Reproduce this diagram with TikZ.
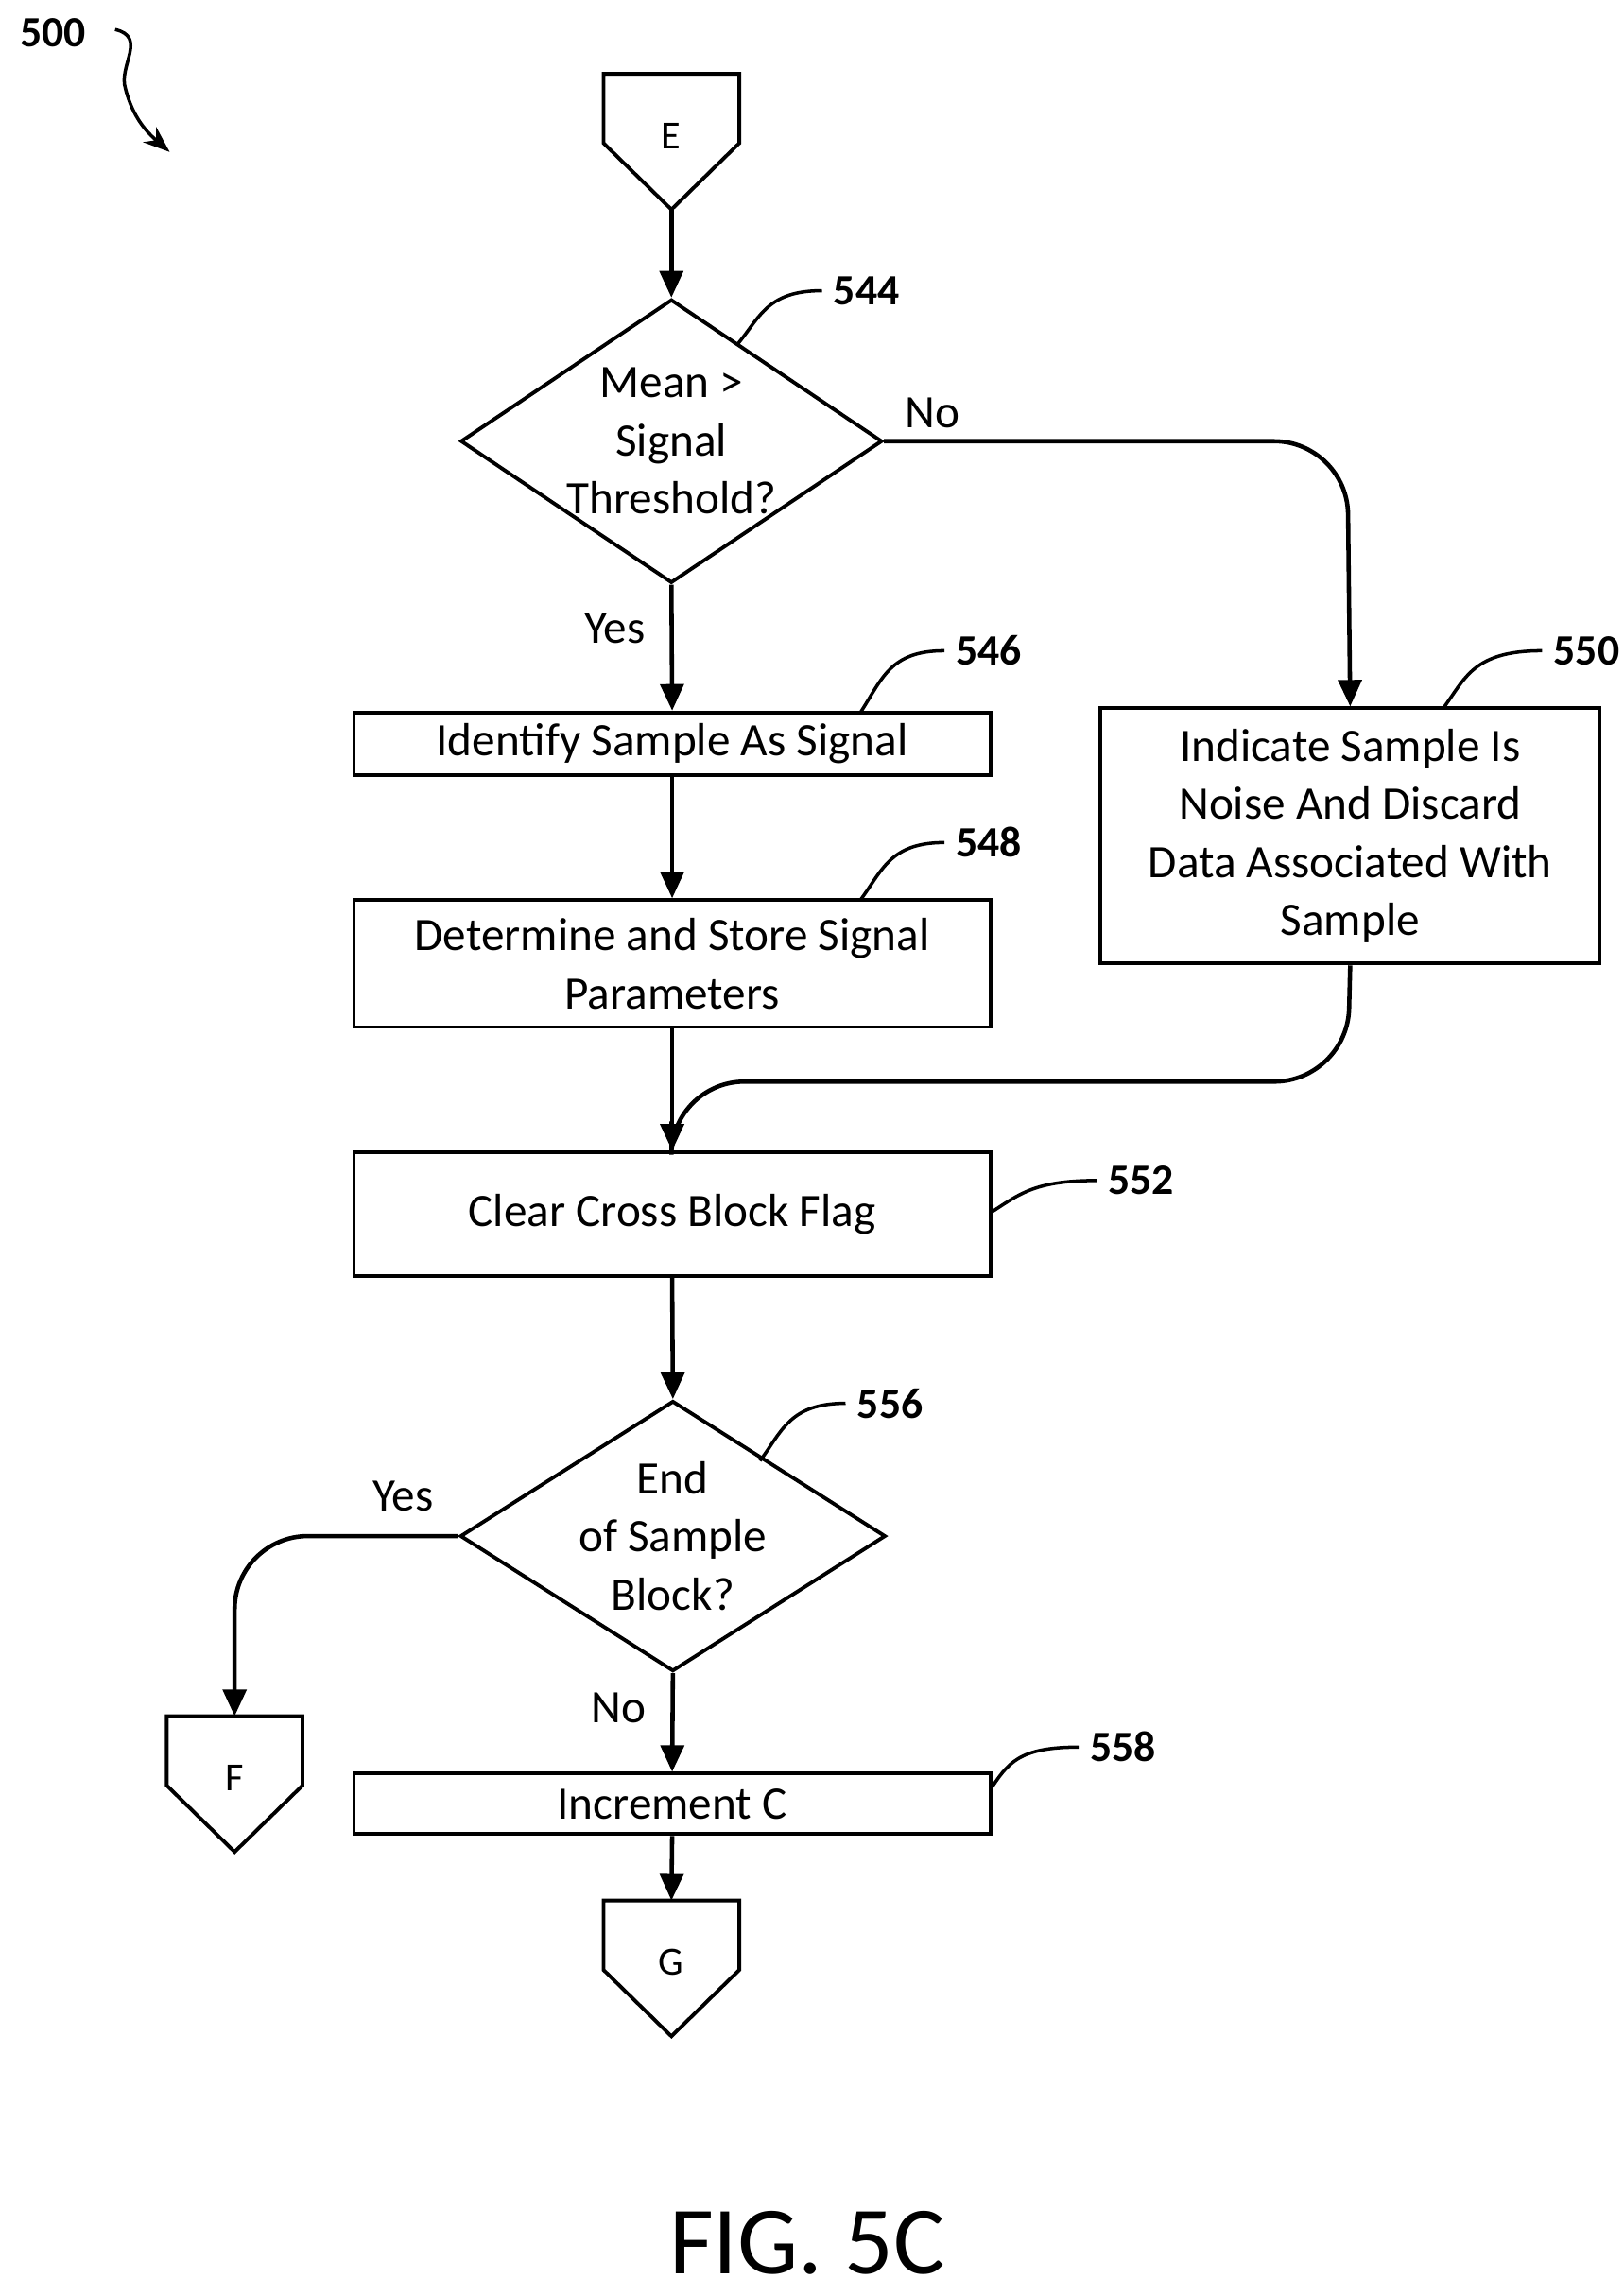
\documentclass[tikz,border=0pt]{standalone}
\usepackage{fontspec}
\setmainfont{Carlito}
\usetikzlibrary{shapes.geometric}
\usetikzlibrary{arrows.meta}

\tikzset{
    box/.style={draw, line width=1.1pt, minimum width=6.73cm, align=center, font=\fontsize{14}{17.5}\selectfont},
    choice/.style={draw, line width=1.1pt, diamond, inner sep=0pt},
    txt/.style={align=center, font=\fontsize{14}{17.5}\selectfont},
    refnum/.style={font=\bfseries\fontsize{13}{15}\selectfont},
    flow/.style={line width=1.3pt, -{Triangle[length=8pt,width=7pt]}},
    lead/.style={line width=1pt},
}

% off-page connector: name, x, y of top centre, letter
\newcommand{\offpage}[4]{
    \draw[line width=1.1pt] (#2-46,#3) -- (#2+46,#3) -- (#2+46,#3+47) -- (#2,#3+92) -- (#2-46,#3+47) -- cycle;
    \coordinate (#1) at (#2,#3);
    \node[txt, font=\fontsize{12}{14}\selectfont] (#1-txt) at (#2,#3+42) {#4};
}

\begin{document}
\begin{tikzpicture}[x=0.01561cm, y=-0.01561cm]
\useasboundingbox (0,0) rectangle (1100,1556);

% connectors and figure number
\offpage{E}{455}{50}{E}
\offpage{F}{159}{1163}{F}
\offpage{G}{455}{1288}{G}
\node[refnum] (n500) at (36,22) {500};
\coordinate (a500) at (115,103);
\draw[lead, -{Stealth[length=8pt]}] (78,20) .. controls (100,25) and (80,45) .. (85,60) .. controls (90,80) and (100,90) .. (a500);

% decisions
\node[choice, minimum width=4.46cm, minimum height=3.0cm] (d544) at (455,299) {};
\node[txt] (t544) at (455,299) {Mean >\\Signal\\Threshold?};
\node[choice, minimum width=4.5cm, minimum height=2.86cm] (d556) at (456,1041) {};
\node[txt] (t556) at (456,1041) {End\\of Sample\\Block?};

% process boxes
\node[box, minimum height=0.656cm] (b546) at (455.5,504) {Identify Sample As Signal};
\node[box, minimum height=1.342cm] (b548) at (455.5,653) {Determine and Store Signal\\Parameters};
\node[box, minimum width=5.28cm, minimum height=2.70cm] (b550) at (915,566.5) {Indicate Sample Is\\Noise And Discard\\Data Associated With\\Sample};
\node[box, minimum height=1.31cm] (b552) at (455.5,823) {Clear Cross Block Flag};
\node[box, minimum height=0.64cm] (b558) at (455.5,1222.5) {Increment C};

% flow
\draw[flow] (E) ++(0,92) -- (d544.north);
\draw[flow] (d544.south) -- node[txt, pos=0.35, left=4pt] {Yes} (b546.north);
\draw[flow, rounded corners=22pt] (d544.east) -- (913,299) -- (b550.north);
\node[txt] (lno1) at (632,280) {No};
\draw[flow] (b546.south) -- (b548.north);
\draw[flow] (b548.south) -- (b552.north);
\coordinate (join) at (455,733);
\draw[line width=1.3pt, rounded corners=22pt] (b550.south) -- (913,733) -- (join) -- (455,760);
\draw[flow] (b552.south) -- (d556.north);
\draw[flow, rounded corners=22pt] (d556.west) -- (159,1041) -- (F);
\node[txt] (lyes2) at (273,1014) {Yes};
\draw[flow] (d556.south) -- node[txt, pos=0.35, left=4pt] {No} (b558.north);
\draw[flow] (b558.south) -- (G);

% reference numerals
\node[refnum, anchor=west] (r544) at (557,197) {544};
\draw[lead] (500,233) .. controls (515,215) and (520,197) .. (r544.west);
\node[refnum, anchor=west] (r546) at (640,441) {546};
\draw[lead] (583,483) .. controls (598,460) and (603,441) .. (r546.west);
\node[refnum, anchor=west] (r548) at (640,571) {548};
\draw[lead] (583,610) .. controls (598,590) and (603,571) .. (r548.west);
\node[refnum, anchor=west] (r550) at (1045,441) {550};
\draw[lead] (978,480) .. controls (993,460) and (998,441) .. (r550.west);
\node[refnum, anchor=west] (r552) at (743,800) {552};
\draw[lead] (671,822) .. controls (690,810) and (700,800) .. (r552.west);
\node[refnum, anchor=west] (r556) at (573,951) {556};
\draw[lead] (515,990) .. controls (530,970) and (535,951) .. (r556.west);
\node[refnum, anchor=west] (r558) at (731,1184) {558};
\draw[lead] (671,1213) .. controls (683,1195) and (690,1184) .. (r558.west);

\node[font=\fontsize{29}{34}\selectfont] (fig) at (547,1520) {FIG. 5C};
\end{tikzpicture}
\end{document}
